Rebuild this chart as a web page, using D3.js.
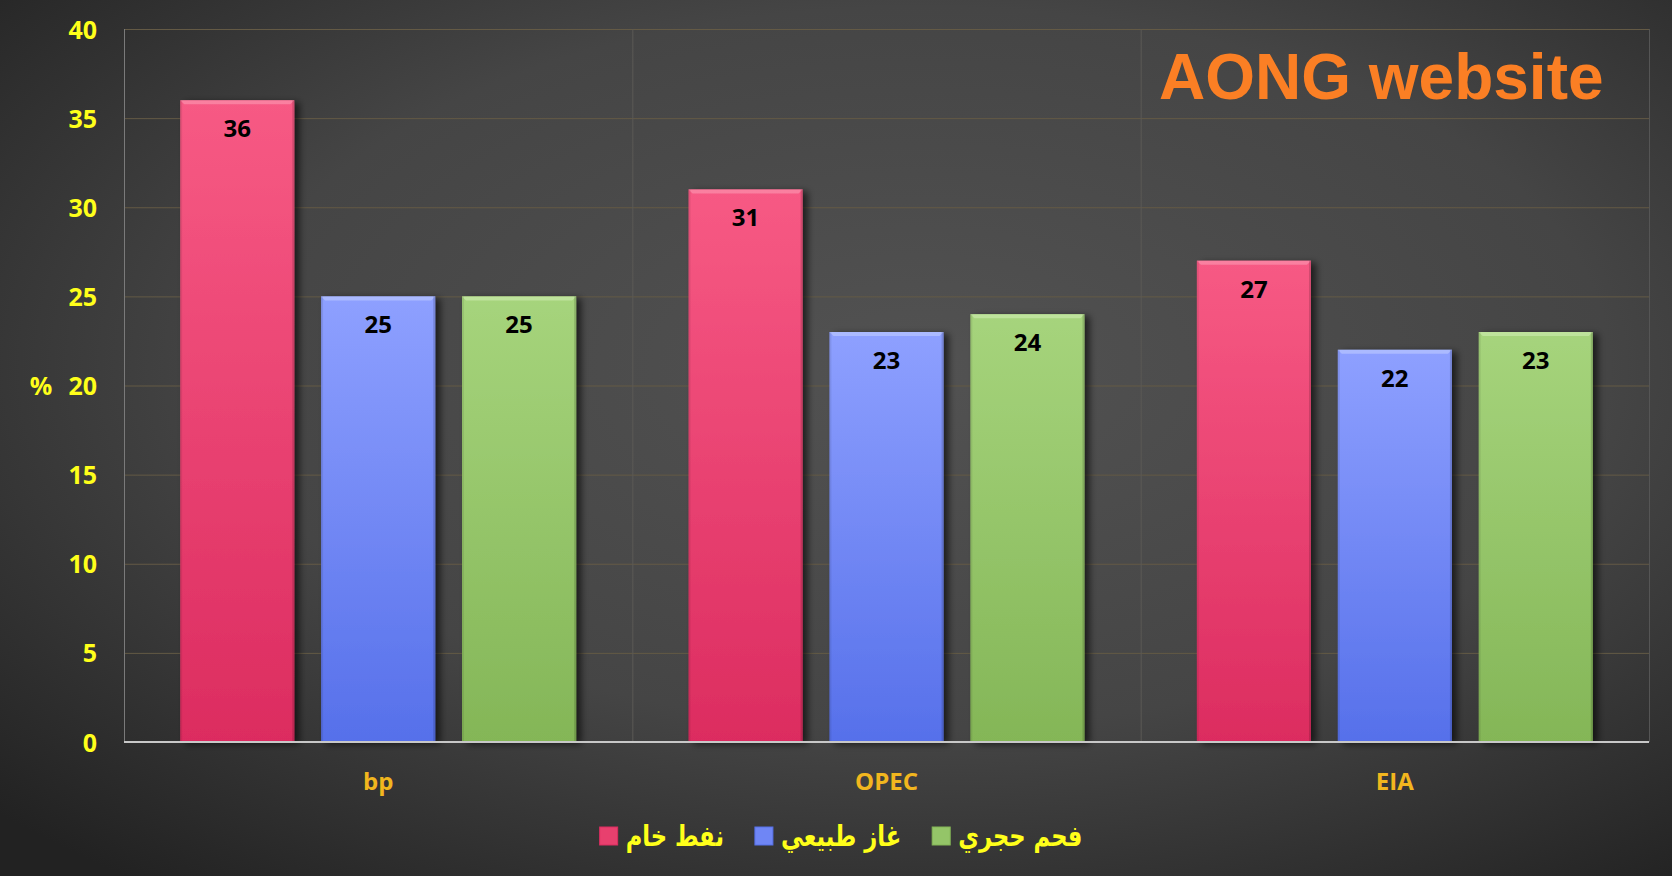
<!DOCTYPE html>
<html><head><meta charset="utf-8">
<script src="https://cdn.jsdelivr.net/npm/d3@7"></script>
<style>html,body{margin:0;padding:0;background:#333;}svg{display:block;}</style>
</head><body>
<svg id="c" width="1672" height="876"></svg>
<script>
const categories = ["bp", "OPEC", "EIA"];
const seriesNames = ["نفط خام", "غاز طبيعي", "فحم حجري"];
const oilValues = [36, 31, 27];
const gasValues = [25, 23, 22];
const coalValues = [25, 24, 23];
const yTicks = [0, 5, 10, 15, 20, 25, 30, 35, 40];
const titleText = "AONG website";
const yAxisLabel = "%";

const series = [oilValues, gasValues, coalValues];
const colors = [
  {top:"#f75a84", bot:"#dc2c60", hi:"#fa8aa8", leg:"#e8406e"},
  {top:"#8ea0ff", bot:"#5670ea", hi:"#b3c0ff", leg:"#6f86f5"},
  {top:"#a6d47c", bot:"#84b657", hi:"#c4e6a4", leg:"#94c568"}
];

const svg = d3.select("#c");
const W = 1672, H = 876;
const m = {l:124, r:23, t:29, b:134};
const pw = W - m.l - m.r, ph = H - m.t - m.b;

const defs = svg.append("defs");
const bg = defs.append("radialGradient").attr("id","bg").attr("cx","0.55").attr("cy","0.42").attr("r","0.75");
bg.append("stop").attr("offset","0").attr("stop-color","#525252");
bg.append("stop").attr("offset","0.55").attr("stop-color","#454545");
bg.append("stop").attr("offset","1").attr("stop-color","#222");
colors.forEach((c,i)=>{
  const g = defs.append("linearGradient").attr("id","g"+i).attr("x1",0).attr("y1",0).attr("x2",0).attr("y2",1);
  g.append("stop").attr("offset",0).attr("stop-color",c.top);
  g.append("stop").attr("offset",1).attr("stop-color",c.bot);
});
const f = defs.append("filter").attr("id","sh").attr("x","-20%").attr("y","-10%").attr("width","150%").attr("height","130%");
f.append("feDropShadow").attr("dx",5).attr("dy",2).attr("stdDeviation",3.5).attr("flood-color","#000").attr("flood-opacity",0.6);

svg.append("rect").attr("width",W).attr("height",H).attr("fill","url(#bg)");

const y = d3.scaleLinear().domain([0,40]).range([m.t+ph, m.t]);
const x0 = d3.scaleBand().domain(categories).range([m.l, m.l+pw]).paddingInner(0.221).paddingOuter(0.1105);
const x1 = d3.scaleBand().domain(d3.range(3)).range([0, x0.bandwidth()]).paddingInner(0.19).paddingOuter(0);

// horizontal gridlines
svg.append("g").selectAll("line").data(yTicks.filter(d=>d>0)).join("line")
  .attr("x1",m.l).attr("x2",m.l+pw).attr("y1",d=>y(d)+0.5).attr("y2",d=>y(d)+0.5)
  .attr("stroke","#645a45").attr("stroke-width",1);
// vertical category separators
const step = x0.step();
svg.append("g").selectAll("line").data([1,2]).join("line")
  .attr("x1",d=>m.l+d*step+0.5).attr("x2",d=>m.l+d*step+0.5).attr("y1",m.t).attr("y2",m.t+ph)
  .attr("stroke","#5c5a55").attr("stroke-width",1);
// plot borders
svg.append("line").attr("x1",m.l+0.5).attr("x2",m.l+0.5).attr("y1",m.t).attr("y2",m.t+ph).attr("stroke","#7a7a7a");
svg.append("line").attr("x1",m.l+pw+0.5).attr("x2",m.l+pw+0.5).attr("y1",m.t).attr("y2",m.t+ph).attr("stroke","#555");

// bars
const groups = svg.append("g").selectAll("g").data(categories).join("g")
  .attr("transform",d=>`translate(${x0(d)},0)`);
groups.each(function(cat, ci){
  const g = d3.select(this);
  series.forEach((vals, si)=>{
    const v = vals[ci];
    const bx = x1(si), bw = x1.bandwidth(), by = y(v), bh = y(0)-y(v);
    g.append("rect").attr("x",bx).attr("y",by).attr("width",bw).attr("height",bh)
      .attr("fill","url(#g"+si+")").attr("filter","url(#sh)");
    g.append("path").attr("d",`M${bx},${by}L${bx+bw},${by}L${bx+bw-4},${by+4}L${bx+4},${by+4}Z`)
      .attr("fill",colors[si].hi).attr("opacity",0.8);
    g.append("rect").attr("x",bx).attr("y",by).attr("width",2).attr("height",bh).attr("fill","#000").attr("opacity",0.08);
    g.append("rect").attr("x",bx+bw-2).attr("y",by).attr("width",2).attr("height",bh).attr("fill","#000").attr("opacity",0.15);
    g.append("text").attr("x",bx+bw/2).attr("y",by+37).attr("text-anchor","middle")
      .attr("font-family","'Open Sans', sans-serif").attr("font-weight","bold").attr("font-size",24)
      .attr("fill","#000").text(v);
  });
});

// baseline
svg.append("line").attr("x1",m.l).attr("x2",m.l+pw).attr("y1",y(0)).attr("y2",y(0)).attr("stroke","#c8c8c8").attr("stroke-width",2);

// y axis labels
const yAxis = d3.axisLeft(y).tickValues(yTicks).tickSize(0).tickPadding(0);
const ya = svg.append("g").attr("transform",`translate(${m.l-27},0)`).call(yAxis);
ya.select(".domain").remove();
ya.selectAll("text").attr("font-family","'Open Sans', sans-serif").attr("font-weight","bold").attr("font-size",25)
  .attr("fill","#ffff1a").attr("dy","0.36em");
svg.append("text").attr("x",41).attr("y",y(20)).attr("dy","0.36em").attr("text-anchor","middle")
  .attr("font-family","'Open Sans', sans-serif").attr("font-weight","bold").attr("font-size",25)
  .attr("fill","#ffff1a").text(yAxisLabel);

// x axis labels
const xAxis = d3.axisBottom(x0).tickSize(0).tickPadding(0);
const xa = svg.append("g").attr("transform",`translate(0,${y(0)})`).call(xAxis);
xa.select(".domain").remove();
xa.selectAll("text").attr("font-family","'Open Sans', sans-serif").attr("font-weight","bold").attr("font-size",24)
  .attr("fill","#f2b61e").attr("dy",null).attr("y",48);

// title
svg.append("text").attr("x",1159).attr("y",99).attr("font-family","'Liberation Sans', Arial, sans-serif")
  .attr("font-weight","bold").attr("font-size",64).attr("fill","#fb7f24").text(titleText);

// legend
const sx = 0.78;
const leg = svg.append("g");
const items = leg.selectAll("g").data(seriesNames).join("g");
items.append("rect").attr("width",18).attr("height",18).attr("y",-19)
  .attr("fill",(d,i)=>colors[i].leg).attr("stroke",(d,i)=>colors[i].bot).attr("stroke-width",1);
const lt = items.append("g");
lt.append("text").attr("x",0).attr("y",0).attr("direction","rtl").attr("text-anchor","end")
  .attr("font-family","'DejaVu Sans', sans-serif").attr("font-weight","bold").attr("font-size",29)
  .attr("fill","#ffff1a").text(d=>d);
const widths = [];
lt.each(function(){
  const tw = d3.select(this).select("text").node().getComputedTextLength();
  d3.select(this).attr("transform",`translate(26,0) scale(${sx},1)`);
  widths.push(26 + tw*sx);
});
const gap = 31;
const total = d3.sum(widths) + gap*(widths.length-1);
let cx = 841 - total/2;
items.each(function(d,i){ d3.select(this).attr("transform",`translate(${cx},${846})`); cx += widths[i] + gap; });
</script>
</body></html>
